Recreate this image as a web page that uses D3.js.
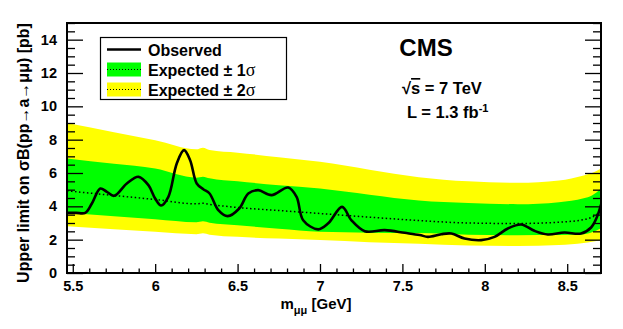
<!DOCTYPE html>
<html>
<head>
<meta charset="utf-8">
<script src="https://cdn.jsdelivr.net/npm/d3@7"></script>
<style>
  body { margin: 0; background: #fff; }
  svg text { font-family: "Liberation Sans", Arial, Helvetica, sans-serif; font-weight: bold; fill: #000; }
</style>
</head>
<body>
<div id="chart"></div>
<script>
"use strict"

// plot frame inside the 623x329 window
const FRAME = { left: 67, right: 601, top: 23, bottom: 273 }

// mass points for the expected bands (GeV)
const expMass = [5.465, 5.75, 6.0, 6.25, 6.29, 6.33, 6.5, 6.75, 7.0, 7.3, 7.6, 7.9, 8.2, 8.45, 8.6, 8.65, 8.705]
const exp2Up  = [9.0, 8.45, 7.96, 7.42, 7.52, 7.38, 7.22, 6.95, 6.67, 6.2, 5.75, 5.5, 5.41, 5.55, 5.85, 6.0, 6.27]
const exp1Up  = [6.87, 6.55, 6.27, 5.72, 5.78, 5.68, 5.5, 5.27, 5.07, 4.7, 4.35, 4.2, 4.13, 4.25, 4.48, 4.65, 5.07]
const expMed  = [4.93, 4.65, 4.41, 4.15, 4.18, 4.12, 3.93, 3.75, 3.57, 3.35, 3.15, 3.0, 2.97, 3.05, 3.2, 3.35, 3.7]
const exp1Dn  = [3.61, 3.4, 3.23, 3.05, 3.1, 3.02, 2.87, 2.65, 2.47, 2.42, 2.4, 2.3, 2.27, 2.28, 2.33, 2.45, 2.69]
const exp2Dn  = [2.81, 2.63, 2.47, 2.33, 2.38, 2.3, 2.17, 2.07, 1.98, 1.85, 1.75, 1.65, 1.62, 1.68, 1.8, 1.88, 1.97]

// observed limit
const obsMass = [5.466, 5.52, 5.576, 5.616, 5.667, 5.707, 5.751, 5.828, 5.899, 5.959, 6.0, 6.036, 6.08, 6.131,
    6.175, 6.212, 6.252, 6.292, 6.33, 6.383, 6.44, 6.51, 6.565, 6.625, 6.706, 6.807, 6.858, 6.898, 6.989,
    7.05, 7.134, 7.19, 7.272, 7.393, 7.514, 7.605, 7.655, 7.736, 7.797, 7.877, 7.978, 8.059, 8.14, 8.221,
    8.301, 8.382, 8.483, 8.584, 8.645, 8.681, 8.705]
const obsLimit = [3.61, 3.61, 3.61, 4.17, 5.07, 4.87, 4.63, 5.37, 5.77, 5.27, 4.47, 4.05, 4.57, 6.57,
    7.37, 6.77, 5.37, 5.03, 4.77, 3.77, 3.41, 3.87, 4.77, 4.97, 4.67, 5.13, 4.57, 3.17, 2.62,
    2.98, 3.97, 3.17, 2.51, 2.57, 2.41, 2.28, 2.17, 2.33, 2.37, 2.07, 1.97, 2.17, 2.67, 2.91,
    2.53, 2.31, 2.43, 2.37, 2.73, 3.37, 4.1]

// axis ticks
const xMajor = [5.5, 6, 6.5, 7, 7.5, 8, 8.5]
const yMajor = [0, 2, 4, 6, 8, 10, 12, 14]

const legendEntries = [
    { kind: "line", label: "Observed" },
    { kind: "band", color: "#00ff00", label: "Expected \u00b1 ", n: "1" },
    { kind: "band", color: "#ffff00", label: "Expected \u00b1 ", n: "2" }
]

const svg = d3.select("#chart").append("svg").attr("width", 623).attr("height", 329)

const x = d3.scaleLinear().domain([5.465, 8.705]).range([FRAME.left, FRAME.right])
const y = d3.scaleLinear().domain([0, 15]).range([FRAME.bottom, FRAME.top])

svg.append("clipPath").attr("id", "clip").append("rect")
    .attr("x", FRAME.left).attr("y", FRAME.top)
    .attr("width", FRAME.right - FRAME.left).attr("height", FRAME.bottom - FRAME.top)

const plot = svg.append("g").attr("clip-path", "url(#clip)")

// bands
function band(lo, hi) {
    return d3.area().x((d, i) => x(expMass[i])).y0((d, i) => y(lo[i])).y1((d, i) => y(hi[i]))
        .curve(d3.curveMonotoneX)(expMass)
}
plot.append("path").attr("d", band(exp2Dn, exp2Up)).attr("fill", "#ffff00")
plot.append("path").attr("d", band(exp1Dn, exp1Up)).attr("fill", "#00ff00")

// expected median
plot.append("path")
    .attr("d", d3.line().x((d, i) => x(expMass[i])).y((d, i) => y(expMed[i])).curve(d3.curveMonotoneX)(expMass))
    .attr("fill", "none").attr("stroke", "#000").attr("stroke-width", 1.5).attr("stroke-dasharray", "1.5,2.5")

// observed
plot.append("path")
    .attr("d", d3.line().x((d, i) => x(obsMass[i])).y((d, i) => y(obsLimit[i])).curve(d3.curveCatmullRom)(obsMass))
    .attr("fill", "none").attr("stroke", "#000").attr("stroke-width", 2.6)

// axes: ticks point into the frame
const xMinor = d3.range(55, 88).map(d => d / 10).filter(d => !xMajor.includes(d))
const yMinor = d3.range(0, 31).map(d => d / 2).filter(d => !yMajor.includes(d))

function styleAxis(g) {
    g.select(".domain").remove()
    g.selectAll("line").attr("stroke", "#000").attr("stroke-width", 1.3)
    g.selectAll("text").attr("font-size", 14.5)
}

svg.append("g").attr("transform", `translate(0,${FRAME.bottom})`)
    .call(d3.axisBottom(x).tickValues(xMinor).tickSizeInner(-4.5).tickSizeOuter(0).tickFormat(""))
    .call(styleAxis)
svg.append("g").attr("transform", `translate(0,${FRAME.bottom})`)
    .call(d3.axisBottom(x).tickValues(xMajor).tickSizeInner(-9).tickSizeOuter(0).tickPadding(8).tickFormat(d => String(d)))
    .call(styleAxis)

svg.append("g").attr("transform", `translate(${FRAME.left},0)`)
    .call(d3.axisLeft(y).tickValues(yMinor).tickSizeInner(-8).tickSizeOuter(0).tickFormat(""))
    .call(styleAxis)
svg.append("g").attr("transform", `translate(${FRAME.left},0)`)
    .call(d3.axisLeft(y).tickValues(yMajor).tickSizeInner(-16).tickSizeOuter(0).tickPadding(10))
    .call(styleAxis)

svg.append("g").attr("transform", `translate(${FRAME.right},0)`)
    .call(d3.axisLeft(y).tickValues(yMinor).tickSizeInner(8).tickSizeOuter(0).tickFormat(""))
    .call(styleAxis)
svg.append("g").attr("transform", `translate(${FRAME.right},0)`)
    .call(d3.axisLeft(y).tickValues(yMajor).tickSizeInner(16).tickSizeOuter(0).tickFormat(""))
    .call(styleAxis)

// frame
svg.append("rect").attr("x", FRAME.left).attr("y", FRAME.top)
    .attr("width", FRAME.right - FRAME.left).attr("height", FRAME.bottom - FRAME.top)
    .attr("fill", "none").attr("stroke", "#000").attr("stroke-width", 2)

// axis titles
svg.append("text").attr("transform", "translate(29,153) rotate(-90)")
    .attr("text-anchor", "middle").attr("font-size", 16)
    .text("Upper limit on \u03c3B(pp\u2192a\u2192\u03bc\u03bc) [pb]")

const xt = svg.append("text").attr("x", 316).attr("y", 309).attr("text-anchor", "middle").attr("font-size", 15)
xt.append("tspan").text("m")
xt.append("tspan").attr("dy", 5).attr("font-size", 11).text("\u03bc\u03bc")
xt.append("tspan").attr("dy", -5).text(" [GeV]")

// legend
const legend = svg.append("g")
legend.append("rect").attr("x", 100.5).attr("y", 37.5).attr("width", 186).attr("height", 62)
    .attr("fill", "#fff").attr("stroke", "#000").attr("stroke-width", 1.2)

legendEntries.forEach((e, i) => {
    const cy = 49.5 + i * 20
    if (e.kind === "line") {
        legend.append("line").attr("x1", 107).attr("x2", 141).attr("y1", cy).attr("y2", cy)
            .attr("stroke", "#000").attr("stroke-width", 2.6)
    } else {
        legend.append("rect").attr("x", 107).attr("y", cy - 7).attr("width", 34).attr("height", 14).attr("fill", e.color)
        legend.append("line").attr("x1", 107).attr("x2", 141).attr("y1", cy).attr("y2", cy)
            .attr("stroke", "#000").attr("stroke-width", 1).attr("stroke-dasharray", "1,2")
    }
    const t = legend.append("text").attr("x", 148).attr("y", cy + 6).attr("font-size", 16)
    t.append("tspan").text(e.label)
    if (e.n) {
        t.append("tspan").text(e.n)
        t.append("tspan").attr("font-family", "'Liberation Serif', 'Times New Roman', serif")
            .attr("font-weight", "normal").attr("font-size", 18).text("\u03c3")
    }
})

// experiment labels
svg.append("text").attr("x", 426).attr("y", 56).attr("text-anchor", "middle").attr("font-size", 24).text("CMS")

const rs = svg.append("text").attr("x", 402).attr("y", 94).attr("font-size", 16.5)
rs.append("tspan").text("\u221a")
rs.append("tspan").attr("text-decoration", "overline").text("s")
rs.append("tspan").text(" = 7 TeV")

const lumi = svg.append("text").attr("x", 407).attr("y", 118).attr("font-size", 16.5)
lumi.append("tspan").text("L = 1.3 fb")
lumi.append("tspan").attr("dy", -6).attr("font-size", 11).text("-1")
</script>
</body>
</html>
